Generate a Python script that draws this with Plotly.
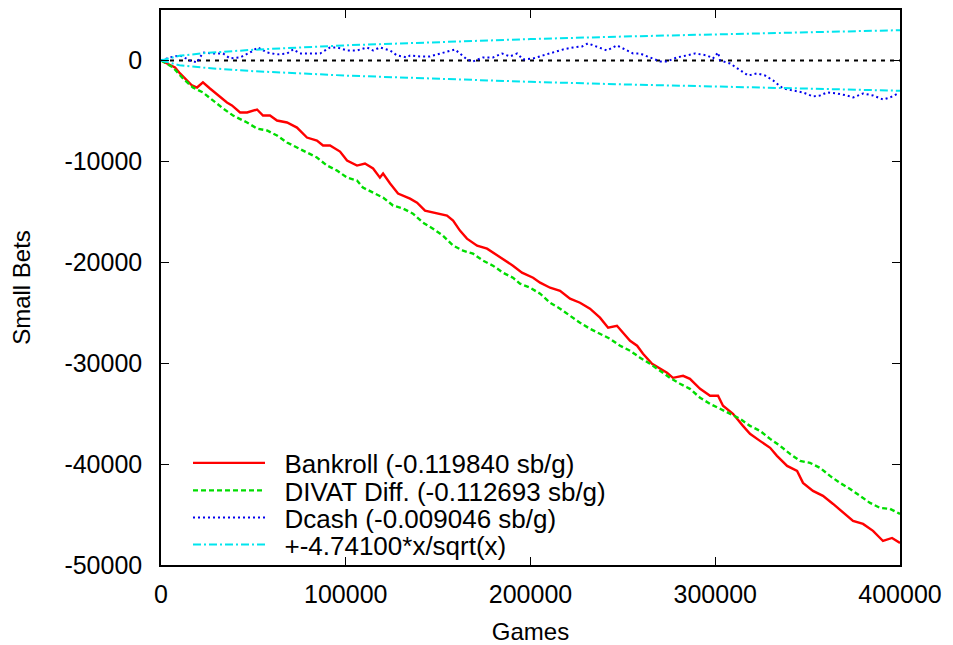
import plotly.graph_objects as go

# ---- data ----
bank_x = [0, 7600, 10300, 13000, 16800, 19500, 22700, 26500, 30900, 35700, 38400, 42800, 46600, 52000,
          55200, 59000, 62800, 68200, 73600, 79000, 84400, 87700, 91500, 96900, 100700, 106100, 110400,
          114800, 118500, 120200, 124000, 128300, 134800, 138600, 142900, 149400, 154800, 158100, 161800,
          165600, 171100, 176500, 179700, 185100, 190500, 195400, 201400, 205200, 210600, 216000, 221400,
          226800, 232200, 237600, 242000, 246800, 250100, 253900, 257700, 260900, 265800, 270100, 273900,
          277100, 282600, 286300, 291800, 297200, 301500, 304200, 309600, 315000, 318800, 324200, 329700,
          333400, 338900, 344300, 347500, 352900, 358300, 363800, 369200, 374600, 380000, 385400, 390800,
          395700, 400000]
bank_y = [0, -690, -1290, -1790, -2480, -2680, -2180, -2780, -3470, -4170, -4460, -5160, -5160, -4860,
          -5460, -5460, -5950, -6150, -6650, -7640, -7940, -8430, -8430, -9030, -9920, -10420, -10220,
          -10710, -11610, -11210, -12200, -13190, -13690, -14090, -14880, -15180, -15380, -15870, -16860,
          -17660, -18350, -18650, -19050, -19640, -20340, -21030, -21530, -22020, -22520, -22820, -23610,
          -24010, -24600, -25490, -26490, -26290, -26980, -27780, -28270, -29070, -30060, -30550, -30950,
          -31450, -31250, -31550, -32540, -33230, -33230, -34220, -35020, -36210, -37000, -37700, -38390,
          -39180, -40180, -40670, -41860, -42660, -43150, -43950, -44840, -45630, -45930, -46620, -47620,
          -47320, -47810]

divat_x = [0, 6500, 11900, 17300, 22700, 28100, 33600, 39000, 46600, 52000, 57400, 62800, 68200, 73600,
           79000, 84400, 89900, 95300, 100700, 106100, 109300, 114800, 120200, 125600, 131000, 136400,
           141800, 147200, 152600, 158100, 163500, 168900, 174300, 179700, 185100, 190500, 194300, 199700,
           205200, 210600, 216000, 221400, 226800, 232200, 237600, 243000, 248500, 253900, 259300, 264700,
           270100, 275500, 280900, 286300, 291800, 297200, 302600, 308000, 313400, 318800, 324200, 329700,
           335100, 340500, 345900, 351300, 356700, 362100, 367500, 373000, 378400, 383800, 389200, 394600,
           400000]
divat_y = [0, -690, -1790, -2680, -3170, -3970, -4760, -5460, -6150, -6750, -6940, -7440, -8130, -8630,
           -9130, -9620, -10420, -10910, -11610, -11900, -12600, -13090, -13590, -14380, -14680, -15180,
           -16070, -16670, -17360, -18350, -18850, -19150, -19840, -20340, -21030, -21530, -22120, -22520,
           -23110, -24010, -24600, -25300, -25990, -26590, -27080, -27580, -28270, -28770, -29460, -30060,
           -30750, -31450, -32040, -32540, -33430, -34030, -34520, -35020, -35510, -36210, -36700, -37500,
           -38190, -38990, -39680, -39880, -40370, -41170, -41860, -42460, -43150, -43850, -44340, -44440,
           -44940]

dcash_x = [0, 4900, 10300, 15700, 19500, 22700, 28100, 33600, 37300, 42800, 48200, 52500, 57400, 62800,
           68200, 71500, 75200, 80700, 86100, 91500, 95300, 100700, 106100, 111500, 114800, 118500, 124000,
           127700, 133200, 134800, 140200, 145600, 151000, 156400, 159100, 161800, 165600, 168900, 174300,
           179700, 184600, 188900, 192700, 196000, 201400, 206800, 212200, 217600, 223000, 227900, 231100,
           236000, 241400, 246800, 250100, 255500, 259300, 264700, 270100, 273900, 279300, 284700, 289100,
           295500, 298800, 301500, 302600, 308000, 313400, 317800, 322600, 326900, 331300, 336700, 342100,
           347500, 352900, 356700, 360500, 365900, 371300, 374600, 380000, 385400, 390800, 394600, 398900]
dcash_y = [0, 300, 500, 0, -200, 790, 690, 690, 200, 300, 790, 1290, 790, 600,
           690, 1090, 690, 690, 690, 1290, 1290, 990, 990, 1290, 990, 1290, 990,
           500, 300, 500, 400, 400, 690, 990, 1090, 690, 100, -100, 300,
           300, 690, 400, 690, 100, 200, 500, 790, 1090, 1290, 1390, 1690,
           1390, 990, 1490, 1190, 690, 690, 300, -100, -100, 300, 500, 690,
           500, 200, 790, 0, -300, -990, -1490, -1290, -1490, -1980, -2780, -2980,
           -3170, -3570, -3470, -3170, -3270, -3470, -3670, -3270, -3470, -3870, -3670, -3270]

bound_x = [0, 10000, 25000, 50000, 100000, 150000, 200000, 250000, 300000, 350000, 400000]
bound_up = [0, 470, 750, 1060, 1500, 1840, 2120, 2370, 2600, 2800, 3000]
bound_lo = [-v for v in bound_up]

zero_x = [0, 400000]
zero_y = [0, 0]

x_ticks = [0, 100000, 200000, 300000, 400000]
x_labels = ["0", "100000", "200000", "300000", "400000"]
y_ticks = [0, -10000, -20000, -30000, -40000, -50000]
y_labels = ["0", "-10000", "-20000", "-30000", "-40000", "-50000"]

names = ["Bankroll (-0.119840 sb/g)", "DIVAT Diff. (-0.112693 sb/g)",
         "Dcash (-0.009046 sb/g)", "+-4.74100*x/sqrt(x)"]

FONT = "Liberation Sans, Arial, sans-serif"
FS = 25
LFS = 26
TFS = 24
PAD = "\u00a0\u00a0"
CYAN_DASH = "8px,3px,2px,3px"

fig = go.Figure()
fig.add_trace(go.Scatter(x=zero_x, y=zero_y, mode="lines", showlegend=False,
                         line=dict(color="black", width=2, dash="4px,5px"), hoverinfo="skip"))
fig.add_trace(go.Scatter(x=bank_x, y=bank_y, mode="lines", name=PAD + names[0], legend="legend",
                         line=dict(color="#ff0000", width=2.4)))
fig.add_trace(go.Scatter(x=divat_x, y=divat_y, mode="lines", name=PAD + names[1], legend="legend2",
                         line=dict(color="#00dd00", width=2.4, dash="5px,3px")))
fig.add_trace(go.Scatter(x=dcash_x, y=dcash_y, mode="lines", name=PAD + names[2], legend="legend3",
                         line=dict(color="#0000ee", width=2, dash="2px,3px")))
fig.add_trace(go.Scatter(x=bound_x, y=bound_up, mode="lines", name=PAD + names[3], legend="legend4",
                         line=dict(color="#00e5ee", width=2, dash=CYAN_DASH)))
fig.add_trace(go.Scatter(x=bound_x, y=bound_lo, mode="lines", showlegend=False,
                         line=dict(color="#00e5ee", width=2, dash=CYAN_DASH)))

def leg(yc):
    return dict(x=(188 - 161) / 739, y=(565 - yc) / 555, xanchor="left", yanchor="middle",
                bgcolor="rgba(0,0,0,0)", font=dict(size=LFS, family=FONT, color="black"),
                itemwidth=72, borderwidth=0)

fig.update_layout(
    width=953, height=645,
    margin=dict(l=161, r=53, t=10, b=80),
    paper_bgcolor="white", plot_bgcolor="white",
    font=dict(family=FONT, size=FS, color="black"),
    showlegend=True,
    legend=leg(463), legend2=leg(490.5), legend3=leg(517.5), legend4=leg(544.5),
    xaxis=dict(range=[0, 400000], tickvals=x_ticks, ticktext=x_labels, automargin=False,
               showgrid=False, zeroline=False, showline=True, linecolor="black", linewidth=1.5,
               mirror="allticks", ticks="inside", ticklen=8, tickcolor="black",
               ticklabelstandoff=6,
               title=dict(text="Games", standoff=16, font=dict(size=TFS))),
    yaxis=dict(range=[-50000, 5000], tickvals=y_ticks, ticktext=y_labels, automargin=False,
               showgrid=False, zeroline=False, showline=True, linecolor="black", linewidth=1.5,
               mirror="allticks", ticks="inside", ticklen=8, tickcolor="black",
               ticklabelstandoff=12,
               title=dict(text="Small Bets", standoff=27, font=dict(size=TFS))),
)

fig.write_html("out.html")
